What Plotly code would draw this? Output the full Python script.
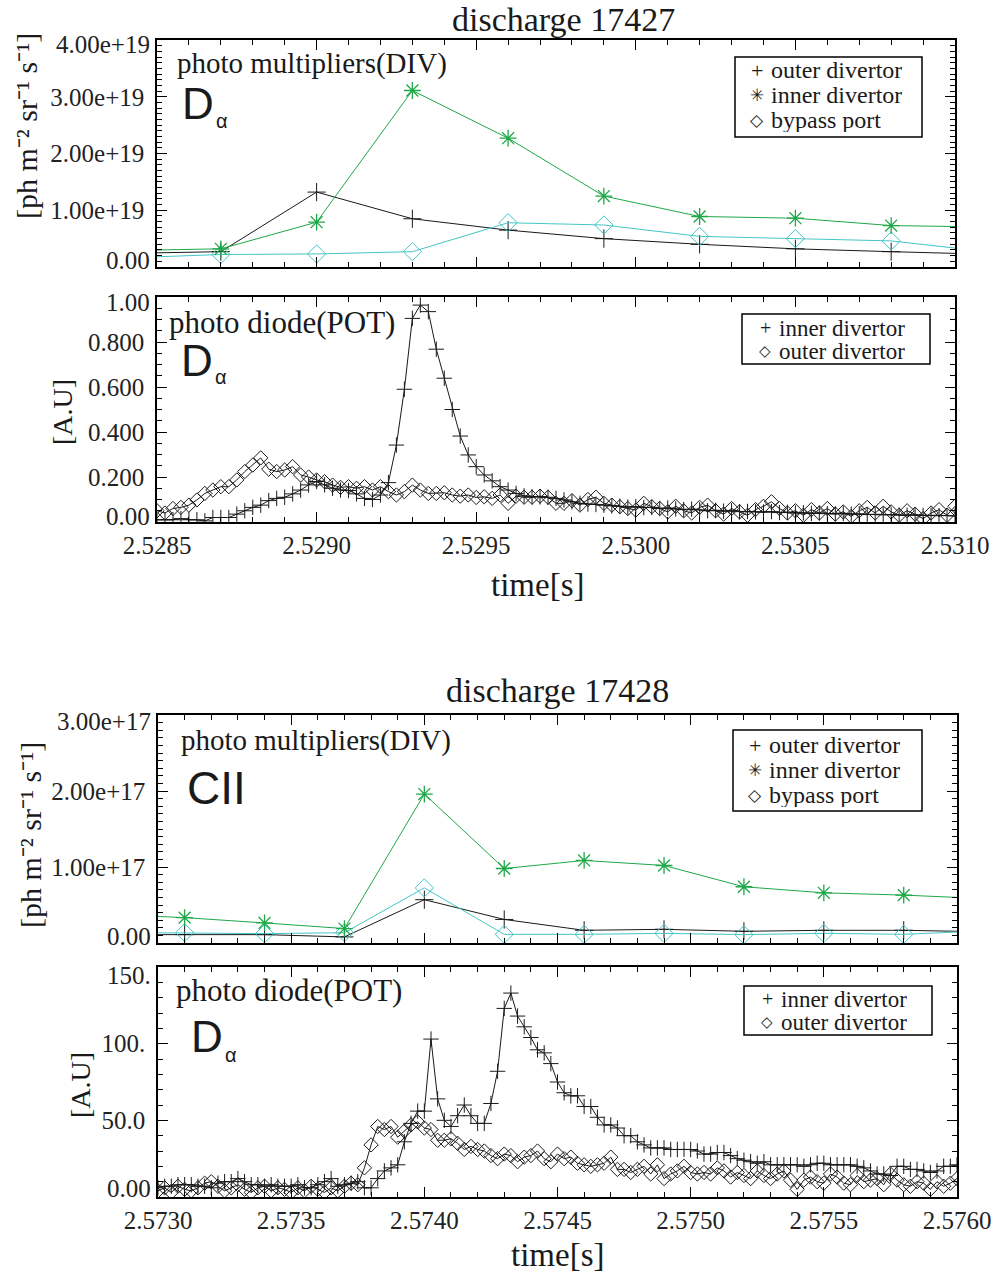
import numpy as np
import plotly.graph_objects as go

W, H = 993, 1274

# ---------------- data ----------------
# discharge 17427, photo multipliers (DIV), units 1e19
div1_time = [2.5284, 2.5287, 2.5290, 2.5293, 2.5296, 2.5299, 2.5302, 2.5305, 2.5308, 2.5311]
div1_outer = [0.24, 0.27, 1.32, 0.85, 0.65, 0.50, 0.40, 0.32, 0.27, 0.225]
div1_inner = [0.29, 0.32, 0.79, 3.11, 2.27, 1.25, 0.89, 0.86, 0.73, 0.705]
div1_bypass = [0.16, 0.22, 0.23, 0.27, 0.78, 0.74, 0.54, 0.50, 0.46, 0.27]

# discharge 17427, photo diode (POT), 25 us sampling from 2.5285 s
pot1_start, pot1_step = 2.5285, 0.000025
pot1_inner = [
    0.01, 0.01, 0.01, 0.015, 0.01, 0.01, 0.005, 0.02, 0.02, 0.02,
    0.035, 0.05, 0.065, 0.075, 0.095, 0.105, 0.11, 0.125, 0.142, 0.165,
    0.18, 0.165, 0.15, 0.142, 0.14, 0.125, 0.105, 0.1, 0.12, 0.175,
    0.342, 0.59, 0.905, 0.964, 0.935, 0.768, 0.639, 0.5, 0.382, 0.298,
    0.246, 0.209, 0.183, 0.157, 0.142, 0.127, 0.116, 0.112, 0.112, 0.11,
    0.105, 0.098, 0.09, 0.083, 0.08, 0.078, 0.075, 0.072, 0.07, 0.066,
    0.068, 0.064, 0.065, 0.06, 0.062, 0.058, 0.055, 0.057, 0.054, 0.05,
    0.052, 0.048, 0.05, 0.046, 0.047, 0.045, 0.044, 0.046, 0.042, 0.043,
    0.04, 0.041, 0.038, 0.04, 0.037, 0.036, 0.038, 0.035, 0.036, 0.033,
    0.034, 0.032, 0.033, 0.031, 0.03, 0.032, 0.029, 0.03, 0.028, 0.029, 0.027]
pot1_outer = [
    0.05, 0.04, 0.06, 0.065, 0.075, 0.098, 0.127, 0.142, 0.157, 0.157,
    0.187, 0.224, 0.253, 0.285, 0.235, 0.224, 0.231, 0.246, 0.209, 0.2,
    0.187, 0.179, 0.164, 0.154, 0.157, 0.15, 0.157, 0.142, 0.157, 0.135,
    0.12, 0.135, 0.164, 0.142, 0.127, 0.127, 0.13, 0.12, 0.115, 0.12,
    0.109, 0.112, 0.105, 0.12, 0.083, 0.115, 0.11, 0.11, 0.115, 0.11,
    0.083, 0.083, 0.095, 0.075, 0.1, 0.11, 0.083, 0.075, 0.068, 0.06,
    0.053, 0.083, 0.068, 0.06, 0.045, 0.07, 0.05, 0.04, 0.065, 0.075,
    0.05, 0.035, 0.06, 0.045, 0.03, 0.055, 0.07, 0.09, 0.06, 0.04,
    0.05, 0.03, 0.055, 0.04, 0.06, 0.035, 0.045, 0.025, 0.05, 0.065,
    0.04, 0.07, 0.045, 0.03, 0.05, 0.035, 0.015, 0.04, 0.055, 0.03, 0.07]

# discharge 17428, photo multipliers (DIV), units 1e17
div2_time = [2.5728, 2.5731, 2.5734, 2.5737, 2.5740, 2.5743, 2.5746, 2.5749, 2.5752, 2.5755, 2.5758, 2.5761]
div2_outer = [0.11, 0.11, 0.11, 0.08, 0.57, 0.31, 0.167, 0.18, 0.154, 0.167, 0.167, 0.148]
div2_inner = [0.38, 0.334, 0.264, 0.19, 1.96, 0.98, 1.086, 1.02, 0.74, 0.66, 0.63, 0.585]
div2_bypass = [0.14, 0.136, 0.123, 0.136, 0.725, 0.114, 0.114, 0.127, 0.11, 0.127, 0.114, 0.16]

# discharge 17428, photo diode (POT), 25 us sampling from 2.5730 s
pot2_start, pot2_step = 2.5730, 0.000025
pot2_inner = [
    6, 7, 7, 8, 8, 8, 7, 7, 6, 9,
    10, 10, 12, 10, 8, 8, 7, 8, 7, 7,
    7, 8, 6, 6, 8, 10, 12, 7, 8, 9,
    10, 6, 6, 12, 17, 19, 21, 36, 48, 56,
    56, 103, 64, 50, 46, 53, 60, 53, 48, 48,
    61, 82, 123, 133, 118, 111, 104, 96, 94, 87,
    75, 68, 66, 66, 59, 59, 52, 47, 47, 45,
    40, 40, 36, 34, 32, 32, 32, 31, 31, 31,
    31, 30, 28, 28, 29, 29, 27, 25, 24, 23,
    22, 23, 21, 21, 21, 21, 21, 20, 21, 22,
    22, 21, 21, 21, 21, 20, 19, 17, 15, 15,
    14, 20, 20, 18, 18, 17, 16, 17, 20, 20, 21]
pot2_outer = [
    4, 6, 3, 7, 5, 4, 6, 9, 10, 7,
    4, 6, 8, 5, 3, 6, 7, 4, 6, 5,
    3, 6, 4, 7, 5, 3, 6, 4, 7, 9,
    8, 19, 34, 46, 44, 46, 39, 43, 47, 49,
    45, 44, 37, 37, 38, 35, 31, 33, 31, 30,
    27, 25, 28, 27, 23, 26, 27, 30, 25, 23,
    28, 25, 26, 22, 21, 20, 21, 22, 26, 18,
    18, 16, 18, 20, 15, 21, 12, 15, 17, 20,
    16, 15, 16, 15, 19, 17, 13, 16, 14, 12,
    17, 14, 12, 15, 17, 11, 5, 11, 13, 10,
    9, 15, 13, 9, 8, 14, 10, 11, 12, 8,
    15, 11, 8, 7, 10, 9, 5, 10, 7, 9, 12]

# tick labels
x1_ticks = [2.5285, 2.5290, 2.5295, 2.5300, 2.5305, 2.5310]
x1_text = ["2.5285", "2.5290", "2.5295", "2.5300", "2.5305", "2.5310"]
x2_ticks = [2.5730, 2.5735, 2.5740, 2.5745, 2.5750, 2.5755, 2.5760]
x2_text = ["2.5730", "2.5735", "2.5740", "2.5745", "2.5750", "2.5755", "2.5760"]
y1_ticks = [0, 1e19, 2e19, 3e19, 4e19]
y1_text = ["0.00", "1.00e+19", "2.00e+19", "3.00e+19", "4.00e+19"]
y2_ticks = [0, 0.2, 0.4, 0.6, 0.8, 1.0]
y2_text = ["0.00", "0.200", "0.400", "0.600", "0.800", "1.00"]
y3_ticks = [0, 1e17, 2e17, 3e17]
y3_text = ["0.00", "1.00e+17", "2.00e+17", "3.00e+17"]
y4_ticks = [0, 50, 100, 150]
y4_text = ["0.00", "50.0", "100.", "150."]

# ---------------- derived ----------------
pot1_time = np.round(pot1_start + pot1_step * np.arange(len(pot1_inner)), 7)
pot2_time = np.round(pot2_start + pot2_step * np.arange(len(pot2_inner)), 7)
s19 = 1e19
s17 = 1e17

GREEN = "#1fa848"
CYAN = "#45c5c5"
BLACK = "#1a1a1a"
SERIF = "Liberation Serif"
SANS = "Liberation Sans"

fig = go.Figure()


def add(x, y, xa, ya, symbol, color, size, lw=1.0):
    fig.add_trace(go.Scatter(
        x=x, y=y, xaxis=xa, yaxis=ya, mode="lines+markers",
        line=dict(color=color, width=1),
        marker=dict(symbol=symbol, size=size, color=color,
                    line=dict(color=color, width=lw)),
        showlegend=False, hoverinfo="skip"))


# panel 1
add(div1_time, [v * s19 for v in div1_outer], "x", "y", "cross-thin", BLACK, 13)
add(div1_time, [v * s19 for v in div1_bypass], "x", "y", "diamond-open", CYAN, 14)
add(div1_time, [v * s19 for v in div1_inner], "x", "y", "asterisk", GREEN, 14, 1.3)
# panel 2
add(pot1_time, pot1_outer, "x2", "y2", "diamond-open", BLACK, 11)
add(pot1_time, pot1_inner, "x2", "y2", "cross-thin", BLACK, 11)
# panel 3
add(div2_time, [v * s17 for v in div2_outer], "x3", "y3", "cross-thin", BLACK, 13)
add(div2_time, [v * s17 for v in div2_bypass], "x3", "y3", "diamond-open", CYAN, 14)
add(div2_time, [v * s17 for v in div2_inner], "x3", "y3", "asterisk", GREEN, 14, 1.3)
# panel 4
add(pot2_time, pot2_outer, "x4", "y4", "diamond-open", BLACK, 11)
add(pot2_time, pot2_inner, "x4", "y4", "cross-thin", BLACK, 11)


def px(x):
    return x / W


def py(y):
    return 1 - y / H


tickfont = dict(family=SERIF, size=25, color="#222")


def inner_only(labels):
    # end labels are drawn nudged inward (IDL style) as annotations below
    return [""] + list(labels[1:-1]) + [""]


def axis(rng, domain, tickvals, ticktext, show, minor_dtick, minor_tick0, anchor, standoff):
    return dict(range=rng, domain=domain, anchor=anchor, tickmode="array",
                tickvals=tickvals, ticktext=ticktext, showticklabels=show,
                showline=True, linecolor="black", linewidth=1.5, mirror="allticks",
                ticks="inside", ticklen=10, tickwidth=1, tickcolor="black",
                showgrid=False, zeroline=False, tickfont=tickfont,
                ticklabelstandoff=standoff, automargin=False,
                minor=dict(tickmode="linear", tick0=minor_tick0, dtick=minor_dtick,
                           ticks="inside", ticklen=5, tickwidth=1, tickcolor="black",
                           showgrid=False))


xd12 = [px(157), px(955)]
xd34 = [px(158), px(957)]

fig.update_layout(
    width=W, height=H, margin=dict(l=0, r=0, t=0, b=0),
    paper_bgcolor="white", plot_bgcolor="white", showlegend=False,
    xaxis=axis([2.5285, 2.5310], xd12, x1_ticks, x1_text, False, 0.0001, 2.5285, "y", 0),
    yaxis=axis([0, 4e19], [py(267), py(40)], y1_ticks, inner_only(y1_text), True, 1e18, 0, "x", 6),
    xaxis2=axis([2.5285, 2.5310], xd12, x1_ticks, x1_text, True, 0.0001, 2.5285, "y2", 0),
    yaxis2=axis([0, 1.0], [py(522), py(297)], y2_ticks, inner_only(y2_text), True, 0.05, 0, "x2", 6),
    xaxis3=axis([2.5730, 2.5760], xd34, x2_ticks, x2_text, False, 0.0001, 2.5730, "y3", 0),
    yaxis3=axis([0, 3e17], [py(943), py(715)], y3_ticks, inner_only(y3_text), True, 1e16, 0, "x3", 6),
    xaxis4=axis([2.5730, 2.5760], xd34, x2_ticks, x2_text, True, 0.0001, 2.5730, "y4", 0),
    yaxis4=axis([0, 150], [py(1197), py(967)], y4_ticks, inner_only(y4_text), True, 10, 0, "x4", 6),
)

ann = []


def text(x, y, s, size, family=SERIF, xanchor="center", angle=0, yanchor="middle",
         height=None, color="#1a1a1a"):
    a = dict(x=px(x), y=py(y), xref="paper", yref="paper", text=s,
             showarrow=False, xanchor=xanchor, yanchor=yanchor, borderpad=0,
             textangle=angle, font=dict(family=family, size=size, color=color))
    if height is not None:
        a["height"] = height
        a["valign"] = "middle"
    ann.append(a)


# end-of-axis tick labels, nudged inward like the original
for (xr, ytop, ybot, labels) in [(151, 45, 260, y1_text), (151, 302, 516, y2_text),
                                 (152, 721, 936, y3_text), (152, 975, 1188, y4_text)]:
    text(xr, ytop, labels[-1], 25, xanchor="right", color="#222")
    text(xr, ybot, labels[0], 25, xanchor="right", color="#222")

# titles
text(563, 0, "discharge 17427", 34, yanchor="top")
text(557, 690, "discharge 17428", 34)
# axis titles
unit = "[ph m⁻² sr⁻¹ s⁻¹]"
text(27, 126, unit, 30, angle=-90)
text(30, 835, unit, 30, angle=-90)
text(62, 412, "[A.U]", 28, angle=-90)
text(80, 1085, "[A.U]", 28, angle=-90)
text(537, 585, "time[s]", 33)
text(557, 1255, "time[s]", 33)
# in-panel labels
text(176, 63, "photo multipliers(DIV)", 29, xanchor="left")
text(181, 104, "D", 44, SANS, xanchor="left")
text(215, 121, "α", 20, SANS, xanchor="left")
text(168, 322, "photo diode(POT)", 31, xanchor="left")
text(180, 360, "D", 44, SANS, xanchor="left")
text(214, 377, "α", 20, SANS, xanchor="left")
text(180, 740, "photo multipliers(DIV)", 29, xanchor="left")
text(186, 788, "CII", 46, SANS, xanchor="left")
text(175, 990, "photo diode(POT)", 31, xanchor="left")
text(190, 1036, "D", 44, SANS, xanchor="left")
text(224, 1055, "α", 20, SANS, xanchor="left")

# legends
shapes = []


def legend_box(x0, y0, x1, y1, rows, sym_x, txt_x, row_h, fsize, plus_size, sym_size):
    shapes.append(dict(type="rect", xref="paper", yref="paper",
                       x0=px(x0), x1=px(x1), y0=py(y1), y1=py(y0),
                       line=dict(color="black", width=1.5), fillcolor="rgba(0,0,0,0)"))
    for (yy, sym, label) in rows:
        ssize = plus_size if sym == "+" else sym_size
        sfam = SERIF if sym == "+" else "DejaVu Sans"
        text(sym_x, yy, sym, ssize, sfam, height=row_h)
        text(txt_x, yy, label, fsize, xanchor="left", height=row_h)


legend_box(735, 57, 922, 137,
           [(70, "+", "outer divertor"), (95, "✳", "inner divertor"), (120, "◇", "bypass port")],
           757, 770, 24, 24, 22, 17)
legend_box(742, 314, 930, 364,
           [(328, "+", "inner divertor"), (351, "◇", "outer divertor")],
           765, 778, 22, 23, 20, 15)
legend_box(733, 730, 922, 811,
           [(745, "+", "outer divertor"), (770, "✳", "inner divertor"), (795, "◇", "bypass port")],
           755, 768, 24, 24, 22, 17)
legend_box(744, 986, 932, 1035,
           [(999, "+", "inner divertor"), (1022, "◇", "outer divertor")],
           767, 780, 22, 23, 20, 15)

fig.update_layout(annotations=ann, shapes=shapes)
fig.write_html("out.html")
